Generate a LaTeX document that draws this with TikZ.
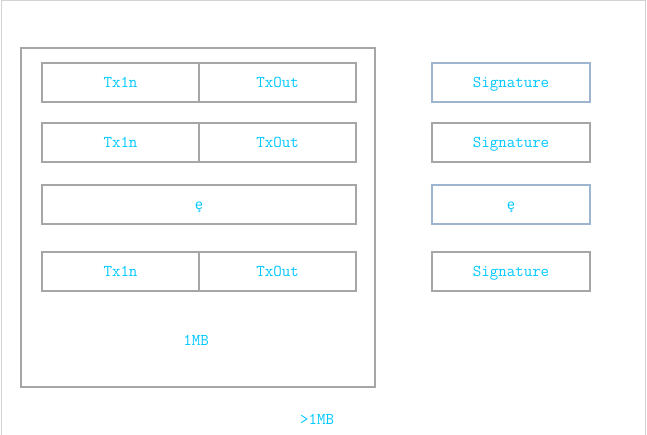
\documentclass[tikz,border=0pt]{standalone}
\usepackage{fontspec}
\newfontfamily\marksfont{Liberation Mono}
\usetikzlibrary{positioning}
\definecolor{boxgray}{RGB}{166,166,166}
\definecolor{boxblue}{RGB}{157,181,207}
\definecolor{txtcyan}{RGB}{0,200,255}
\definecolor{framegray}{RGB}{210,210,210}
\begin{document}
\begin{tikzpicture}[x=1pt,y=-1pt,
    cell/.style={draw=boxgray,line width=2pt,outer sep=0pt,inner sep=0pt,
        minimum width=157pt,minimum height=39pt,text=txtcyan,
        text height=13pt,text depth=3pt,
        font=\ttfamily\fontsize{16.5}{16.5}\selectfont},
    widecell/.style={cell,minimum width=314pt},
    sigcell/.style={cell,minimum width=158pt},
    bluecell/.style={sigcell,draw=boxblue},
    sizelabel/.style={text=txtcyan,font=\ttfamily\fontsize{16.5}{16.5}\selectfont}]
    % Page size and thin frame
    \useasboundingbox (0,0) rectangle (647,435);
    \draw[framegray,line width=1pt] (1,435) -- (1,0.5) -- (645.5,0.5) -- (645.5,435);
    % Block (1MB)
    \node[draw=boxgray,line width=2pt,minimum width=354pt,minimum height=339pt] (block) at (198,217.5) {};
    % Transactions in the block
    \node[cell] (in1) at (120.5,82.5) {Tx1n};
    \node[cell,right=0pt of in1] (out1) {TxOut};
    \node[cell] (in2) at (120.5,142.5) {Tx1n};
    \node[cell,right=0pt of in2] (out2) {TxOut};
    \node[widecell] (dots) at (199,204.5) {\marksfont\fontsize{14}{14}\selectfont ȩ};
    \node[cell] (in3) at (120.5,271.5) {Tx1n};
    \node[cell,right=0pt of in3] (out3) {TxOut};
    \node[sizelabel] (small) at (196,340) {1MB};
    % Signatures kept apart
    \node[bluecell] (sig1) at (511,82.5) {Signature};
    \node[sigcell] (sig2) at (511,142.5) {Signature};
    \node[bluecell] (sigdots) at (511,204.5) {\marksfont\fontsize{14}{14}\selectfont ȩ};
    \node[sigcell] (sig3) at (511,271.5) {Signature};
    \node[sizelabel] (big) at (317,419) {>1MB};
\end{tikzpicture}
\end{document}
